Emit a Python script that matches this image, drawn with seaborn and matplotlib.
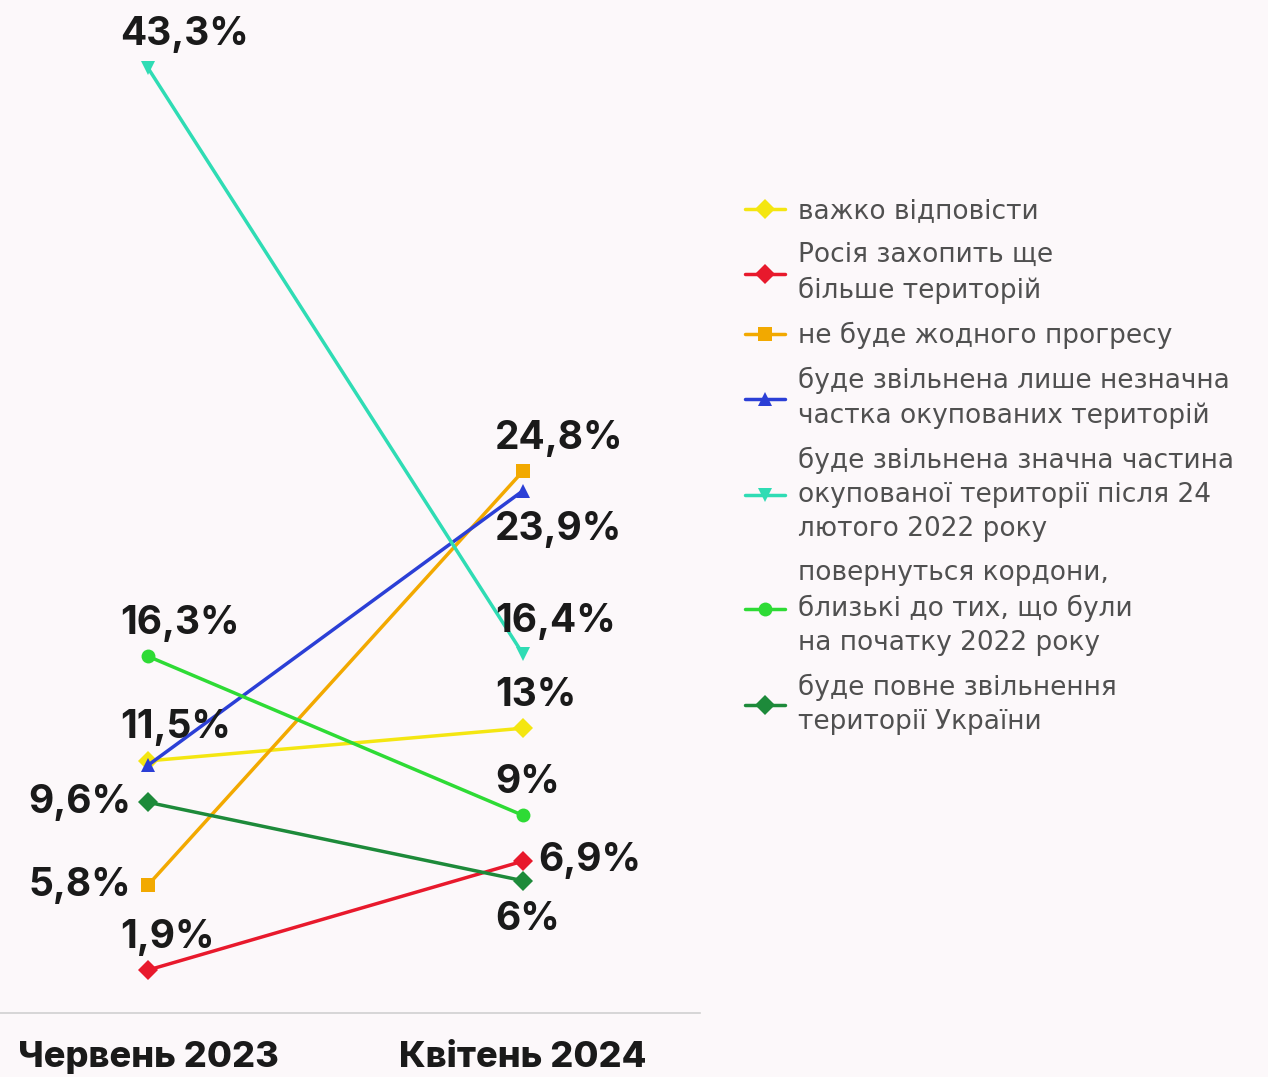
import pandas as pd
import seaborn as sns
import matplotlib.pyplot as plt
from matplotlib.lines import Line2D

# data
periods = ["Червень 2023", "Квітень 2024"]
series = [
    "важко відповісти",
    "Росія захопить ще\nбільше територій",
    "не буде жодного прогресу",
    "буде звільнена лише незначна\nчастка окупованих територій",
    "буде звільнена значна частина\nокупованої території після 24\nлютого 2022 року",
    "повернуться кордони,\nблизькі до тих, що були\nна початку 2022 року",
    "буде повне звільнення\nтериторії України",
]
jun_2023 = [11.5, 1.9, 5.8, 11.3, 43.3, 16.3, 9.6]
apr_2024 = [13.0, 6.9, 24.8, 23.9, 16.4, 9.0, 6.0]
# value shown twice at the same spot -> only one label
jun_labels = ["11,5%", "1,9%", "5,8%", None, "43,3%", "16,3%", "9,6%"]
apr_labels = ["13%", "6,9%", "24,8%", "23,9%", "16,4%", "9%", "6%"]

colors = ["#f4e611", "#e8192c", "#f2a900", "#2b3fd6", "#2fdcb4", "#2edb35", "#1d8a3a"]
markers = ["D", "D", "s", "^", "v", "o", "D"]
# label placement: a=above, b=below, l=left, r=right
jun_place = ["a", "a", "l", None, "a", "a", "l"]
apr_place = ["a", "r", "a", "b", "a", "a", "b"]

rows = []
for s, v0, v1 in zip(series, jun_2023, apr_2024):
    rows.append({"series": s, "x": 0, "value": v0})
    rows.append({"series": s, "x": 1, "value": v1})
df = pd.DataFrame(rows)

bg = "#fcf8fa"
sns.set_style("white")
plt.rcParams["font.family"] = ["Inter", "DejaVu Sans"]

fig = plt.figure(figsize=(12.68, 10.77), dpi=100, facecolor=bg)
ax = fig.add_axes([0, 64 / 1077, 700 / 1268, 1013 / 1077])
ax.set_facecolor(bg)

sns.lineplot(data=df, x="x", y="value", hue="series", style="series",
             palette=dict(zip(series, colors)), markers=dict(zip(series, markers)),
             dashes=False, markersize=10, linewidth=2.5, markeredgewidth=0,
             legend=False, ax=ax)

ax.set_xlim(-148 / 375, 552 / 375)
ax.set_ylim(-0.07, 46.42)

offsets = {"a": (-28, 33, "left", "center"), "b": (-28, -39, "left", "center"),
           "l": (-17, 0, "right", "center"), "r": (15, 1, "left", "center")}
for xi, vals, labs, places in [(0, jun_2023, jun_labels, jun_place),
                               (1, apr_2024, apr_labels, apr_place)]:
    for v, lab, p in zip(vals, labs, places):
        if lab is None:
            continue
        dx, dy, ha, va = offsets[p]
        ax.annotate(lab, (xi, v), xytext=(dx, dy), textcoords="offset pixels",
                    ha=ha, va=va, fontsize=28, fontweight="bold", color="#1a1a1a")

for side in ["top", "right", "left"]:
    ax.spines[side].set_visible(False)
ax.spines["bottom"].set_color("#d0d0d0")
ax.spines["bottom"].set_linewidth(1.2)
ax.set_yticks([])
ax.set_xticks([0, 1])
ax.set_xticklabels(periods, fontsize=26, fontweight="heavy", color="#1a1a1a")
ax.tick_params(axis="x", length=0, pad=20)
ax.set_xlabel("")
ax.set_ylabel("")

handles = [Line2D([], [], color=c, marker=m, markersize=10, linewidth=2.5,
                  markeredgewidth=0) for c, m in zip(colors, markers)]
leg = fig.legend(handles, series, loc="upper left", bbox_to_anchor=(745 / 1268, 1 - 198 / 1077),
                 frameon=False, handlelength=1.5, handletextpad=0.5,
                 labelspacing=0.68, borderpad=0, borderaxespad=0,
                 prop={"family": ["DejaVu Sans"], "size": 19})
for t in leg.get_texts():
    t.set_color("#505050")
    t.set_linespacing(1.4)

plt.savefig("out.png", dpi=100, facecolor=bg)
